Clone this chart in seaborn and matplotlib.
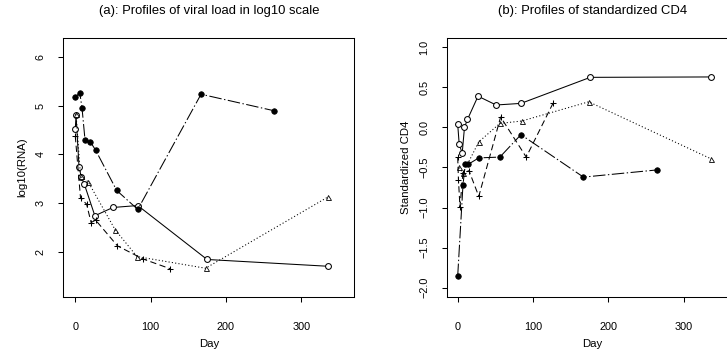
import matplotlib
matplotlib.use("Agg")
import matplotlib.pyplot as plt
import seaborn as sns
import numpy as np

# ---------------- data ----------------
# Panel (a): log10 viral load
vl_days_filled = [0, 6, 9, 13, 20, 27, 55, 83, 167, 264]
vl_filled = [5.18, 5.27, 4.95, 4.29, 4.26, 4.09, 3.26, 2.87, 5.24, 4.90]
vl_days_open = [0, 1, 5, 8, 12, 26, 50, 83, 175, 336]
vl_open = [4.52, 4.81, 3.74, 3.54, 3.39, 2.74, 2.91, 2.95, 1.84, 1.70]
vl_days_tri = [1, 7, 17, 53, 82, 173, 336]
vl_tri = [4.83, 3.55, 3.44, 2.45, 1.90, 1.66, 3.13]
vl_days_plus = [0, 7, 15, 21, 27, 56, 90, 126]
vl_plus = [4.38, 3.10, 2.98, 2.60, 2.65, 2.12, 1.85, 1.65]

# Panel (b): standardized CD4
cd_days_open = [0, 2, 6, 9, 13, 27, 51, 84, 176, 337]
cd_open = [0.04, -0.21, -0.32, 0.00, 0.10, 0.39, 0.28, 0.30, 0.625, 0.63]
cd_days_filled = [0, 7, 10, 14, 28, 56, 84, 167, 265]
cd_filled = [-1.855, -0.72, -0.46, -0.46, -0.38, -0.37, -0.09, -0.62, -0.53]
cd_days_plus = [0, 1, 3, 7, 15, 28, 57, 91, 127]
cd_plus = [-0.37, -0.65, -0.99, -0.57, -0.54, -0.86, 0.13, -0.37, 0.31]
cd_days_tri = [2, 7, 28, 56, 85, 174, 336]
cd_tri = [-0.50, -0.57, -0.18, 0.05, 0.08, 0.32, -0.39]

titles = ["(a): Profiles of viral load in log10 scale", "(b): Profiles of standardized CD4"]
ylabels = ["log10(RNA)", "Standardized CD4"]
xlabel = "Day"
x_ticks = [0, 100, 200, 300]
vl_ticks = [2, 3, 4, 5, 6]
cd_ticks = [-2.0, -1.5, -1.0, -0.5, 0.0, 0.5, 1.0]

# ---------------- style ----------------
sns.set_theme(style="white")
plt.rcParams['font.family'] = ['Liberation Sans', 'DejaVu Sans']
plt.rcParams['lines.scale_dashes'] = False
FS = 7.8
FS_LAB = 8.2
FS_TITLE = 9.4

fig = plt.figure(figsize=(7.27, 3.60), dpi=100)
axL = fig.add_axes([63.3 / 727, 1 - 297 / 360, 291 / 727, (297 - 38) / 360])
axR = fig.add_axes([446.7 / 727, 1 - 297 / 360, 291 / 727, (297 - 38) / 360])

styles = {
    "open": dict(marker="o", mfc="white", mec="black", ms=4.2, mew=0.75, ls="-"),
    "filled": dict(marker="o", mfc="black", mec="black", ms=4.0, mew=0.5, ls=(0, (9, 1.8, 1.0, 1.8))),
    "tri": dict(marker="^", mfc="none", mec="black", ms=3.6, mew=0.6, ls=(0, (0.8, 1.6))),
    "plus": dict(marker="+", mfc="none", mec="black", ms=5.0, mew=0.75, ls=(0, (4.5, 2.5))),
}

def draw(ax, series):
    for key, (d, v) in series.items():
        st = styles[key]
        sns.lineplot(x=np.asarray(d), y=np.asarray(v), ax=ax, sort=False, estimator=None,
                     color="black", linewidth=0.75, linestyle=st["ls"],
                     marker=st["marker"], markerfacecolor=st["mfc"], markeredgecolor=st["mec"],
                     markersize=st["ms"], markeredgewidth=st["mew"])

draw(axL, {"open": (vl_days_open, vl_open), "filled": (vl_days_filled, vl_filled),
           "tri": (vl_days_tri, vl_tri), "plus": (vl_days_plus, vl_plus)})
draw(axR, {"open": (cd_days_open, cd_open), "filled": (cd_days_filled, cd_filled),
           "tri": (cd_days_tri, cd_tri), "plus": (cd_days_plus, cd_plus)})

axL.set_xlim(-15.9, 370.5)
axL.set_ylim(1.068, 6.397)
axR.set_xlim(-14.6, 371.8)
axR.set_ylim(-2.116, 1.116)
axL.set_yticks(vl_ticks)
axL.set_yticklabels([str(t) for t in vl_ticks])
axR.set_yticks(cd_ticks)
axR.set_yticklabels([f"{t:.1f}".replace("-", "\u2212") for t in cd_ticks])

for ax, t, yl in zip([axL, axR], titles, ylabels):
    ax.set_xticks(x_ticks)
    ax.set_xticklabels([str(t_) for t_ in x_ticks])
    ax.set_title(t, fontsize=FS_TITLE, pad=17, color="black")
    ax.set_xlabel(xlabel, fontsize=FS_LAB, labelpad=5, color="black")
    ax.set_ylabel(yl, fontsize=FS_LAB, labelpad=6, color="black")
    for s in ax.spines.values():
        s.set_color("black")
        s.set_linewidth(0.75)
        s.set_visible(True)
    ax.tick_params(axis="both", direction="out", length=3.6, width=0.75, colors="black",
                   labelsize=FS, bottom=True, left=True)
    ax.tick_params(axis="x", pad=14.5)
    ax.tick_params(axis="y", pad=9)
    for lab in ax.get_yticklabels():
        lab.set_rotation(90)
        lab.set_va("center")
    ax.grid(False)
    ax.set_facecolor("white")

fig.savefig("out.png", dpi=100, facecolor="white")
